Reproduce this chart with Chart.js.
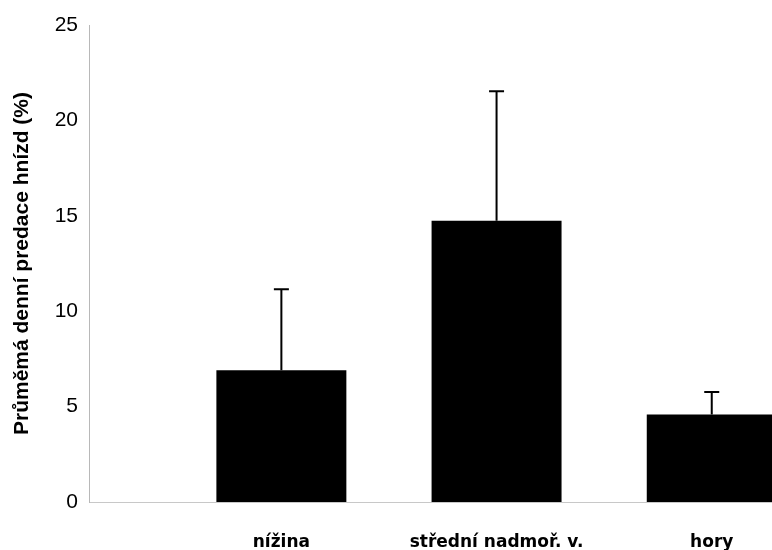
<!DOCTYPE html>
<html>
<head>
<meta charset="utf-8">
<script src="https://cdn.jsdelivr.net/npm/chart.js@4.4.1/dist/chart.umd.min.js"></script>
<style>
  html, body { margin: 0; padding: 0; background: #fff; overflow: hidden; }
  #wrap { width: 772px; height: 550px; }
</style>
</head>
<body>
<div id="wrap"><canvas id="predaceChart" width="772" height="550"></canvas></div>
<script>
// data
const categories = ["nížina", "střední nadmoř. v.", "hory"];
const means = [6.9, 14.74, 4.58];
const upperErr = [11.15, 21.53, 5.77];
const yTicks = [0, 5, 10, 15, 20, 25];

// error bars (only the upper whisker is shown in the original)
const errorBars = {
  id: "errorBars",
  afterDatasetsDraw(chart) {
    const ctx = chart.ctx;
    const yScale = chart.scales.y;
    const meta = chart.getDatasetMeta(0);
    ctx.save();
    ctx.strokeStyle = "#000";
    ctx.lineWidth = 2;
    meta.data.forEach((bar, i) => {
      const top = yScale.getPixelForValue(upperErr[i]);
      ctx.beginPath();
      ctx.moveTo(bar.x, bar.y);
      ctx.lineTo(bar.x, top);
      ctx.moveTo(bar.x - 7.5, top);
      ctx.lineTo(bar.x + 7.5, top);
      ctx.stroke();
    });
    ctx.restore();
  },
};

const ctx = document.getElementById("predaceChart").getContext("2d");
new Chart(ctx, {
  type: "bar",
  data: {
    datasets: [
      {
        data: means.map((v, i) => ({ x: i + 1, y: v })),
        backgroundColor: "#000",
        borderWidth: 0,
        categoryPercentage: 1,
        barPercentage: 0.604,
      },
    ],
  },
  options: {
    responsive: false,
    animation: false,
    layout: { padding: { top: 25, right: 0, bottom: 0, left: 0 } },
    plugins: {
      legend: { display: false },
      tooltip: { enabled: false },
    },
    scales: {
      x: {
        type: "linear",
        offset: false,
        bounds: "ticks",
        min: 0.106,
        max: 3.28,
        grid: { display: false },
        border: { color: "#c8c8c8", dash: [3, 3], width: 1 },
        afterBuildTicks: (scale) => {
          scale.ticks = categories.map((c, i) => ({ value: i + 1 }));
        },
        afterFit: (scale) => { scale.height = 48; },
        ticks: {
          autoSkip: false,
          maxRotation: 0,
          padding: 22,
          color: "#000",
          font: { family: "DejaVu Sans", weight: "bold", size: 17 },
          callback: (v) => categories[v - 1],
        },
      },
      y: {
        min: 0,
        max: 25,
        grid: { display: false },
        border: { color: "#b8b8b8", dash: [3, 2], width: 1 },
        afterBuildTicks: (scale) => {
          scale.ticks = yTicks.map((v) => ({ value: v }));
        },
        afterFit: (scale) => { scale.width = 89; },
        ticks: {
          padding: 3,
          color: "#000",
          font: { family: "Liberation Sans", size: 21 },
        },
        title: {
          display: true,
          text: "Průměmá denní predace hnízd (%)",
          color: "#000",
          padding: { top: 10, bottom: 0 },
          font: { family: "Liberation Sans", weight: "bold", size: 21 },
        },
      },
    },
  },
  plugins: [errorBars],
});
</script>
</body>
</html>
